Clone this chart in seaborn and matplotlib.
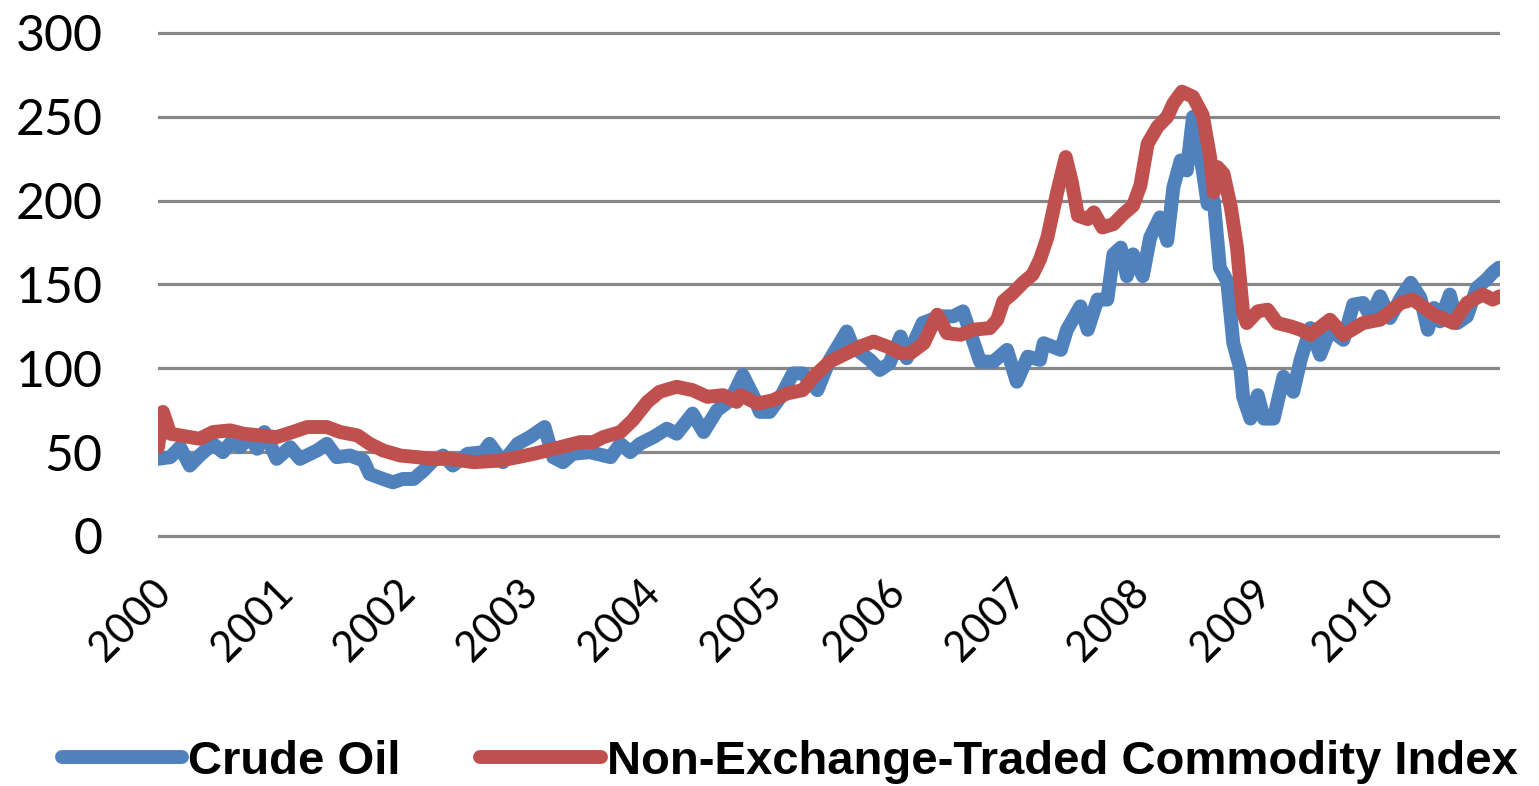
import pandas as pd
import numpy as np
import seaborn as sns
import matplotlib.pyplot as plt
import matplotlib.transforms as mtransforms

# values (year fraction, index level)
oil_year = [2000.00, 2000.10, 2000.18, 2000.26, 2000.34, 2000.45, 2000.53, 2000.61, 2000.67, 2000.75,
            2000.81, 2000.87, 2000.97, 2001.08, 2001.16, 2001.30, 2001.38, 2001.46, 2001.57, 2001.68,
            2001.73, 2001.84, 2001.92, 2002.00, 2002.09, 2002.17, 2002.25, 2002.33, 2002.41, 2002.53,
            2002.66, 2002.71, 2002.82, 2002.94, 2003.04, 2003.12, 2003.16, 2003.23, 2003.31, 2003.39,
            2003.53, 2003.70, 2003.78, 2003.86, 2003.94, 2004.05, 2004.16, 2004.24, 2004.37, 2004.46,
            2004.57, 2004.68, 2004.78, 2004.87, 2004.92, 2005.00, 2005.09, 2005.19, 2005.27, 2005.39,
            2005.49, 2005.63, 2005.68, 2005.82, 2005.90, 2005.98, 2006.07, 2006.12, 2006.25, 2006.39,
            2006.50, 2006.58, 2006.66, 2006.72, 2006.83, 2006.94, 2007.02, 2007.11, 2007.21, 2007.24,
            2007.38, 2007.43, 2007.54, 2007.60, 2007.68, 2007.76, 2007.81, 2007.87, 2007.92, 2007.97,
            2008.05, 2008.11, 2008.19, 2008.25, 2008.30, 2008.36, 2008.41, 2008.46, 2008.54, 2008.58,
            2008.63, 2008.68, 2008.74, 2008.79, 2008.85, 2008.87, 2008.93, 2008.99, 2009.04, 2009.12,
            2009.20, 2009.28, 2009.34, 2009.42, 2009.50, 2009.58, 2009.69, 2009.77, 2009.85, 2009.91,
            2009.99, 2010.07, 2010.16, 2010.24, 2010.32, 2010.38, 2010.43, 2010.48, 2010.56, 2010.62,
            2010.70, 2010.78, 2010.86, 2010.91, 2010.96]
oil_value = [46, 47, 53, 42, 48, 55, 50, 57, 53, 59,
             52, 62, 46, 53, 46, 51, 55, 47, 48, 45,
             37, 34, 32, 34, 34, 39, 45, 48, 42, 49,
             50, 55, 44, 55, 59, 63, 65, 47, 44, 49,
             50, 47, 55, 50, 55, 59, 64, 61, 73, 62,
             75, 81, 96, 83, 74, 74, 83, 97, 97, 87,
             105, 122, 113, 105, 99, 103, 119, 106, 127, 131,
             131, 134, 117, 104, 104, 111, 92, 107, 105, 115,
             111, 123, 137, 123, 141, 141, 168, 172, 155, 168,
             155, 178, 190, 176, 208, 224, 218, 250, 218, 198,
             200, 160, 152, 115, 99, 83, 70, 84, 70, 70,
             95, 86, 105, 124, 108, 123, 117, 138, 139, 131,
             143, 130, 142, 151, 142, 123, 136, 128, 144, 127,
             131, 148, 153, 157, 160]

index_year = [2000.00, 2000.04, 2000.10, 2000.26, 2000.34, 2000.45, 2000.59, 2000.70, 2000.83, 2000.97,
              2001.10, 2001.22, 2001.38, 2001.49, 2001.63, 2001.73, 2001.84, 2001.98, 2002.12, 2002.25,
              2002.39, 2002.58, 2002.80, 2002.94, 2003.07, 2003.29, 2003.45, 2003.56, 2003.64, 2003.78,
              2003.88, 2004.00, 2004.10, 2004.24, 2004.37, 2004.49, 2004.62, 2004.73, 2004.76, 2004.90,
              2005.03, 2005.14, 2005.27, 2005.36, 2005.49, 2005.63, 2005.74, 2005.85, 2005.96, 2006.07,
              2006.15, 2006.26, 2006.37, 2006.45, 2006.56, 2006.66, 2006.80, 2006.86, 2006.91, 2006.99,
              2007.07, 2007.15, 2007.21, 2007.27, 2007.35, 2007.42, 2007.47, 2007.52, 2007.60, 2007.65,
              2007.72, 2007.81, 2007.89, 2007.97, 2008.03, 2008.09, 2008.17, 2008.25, 2008.30, 2008.37,
              2008.46, 2008.54, 2008.60, 2008.63, 2008.66, 2008.71, 2008.77, 2008.82, 2008.87, 2008.90,
              2008.99, 2009.07, 2009.15, 2009.26, 2009.34, 2009.42, 2009.58, 2009.69, 2009.85, 2009.99,
              2010.16, 2010.26, 2010.43, 2010.59, 2010.70, 2010.83, 2010.91, 2010.97]
index_value = [53, 74, 61, 59, 58, 62, 63, 61, 60, 59,
               62, 65, 65, 62, 60, 55, 51, 48, 47, 46,
               46, 44, 45, 47, 49, 53, 56, 56, 59, 62,
               69, 80, 86, 89, 87, 83, 84, 80, 84, 79,
               81, 85, 87, 95, 104, 109, 113, 116, 113, 109,
               109, 115, 132, 121, 120, 123, 124, 129, 140, 145,
               151, 156, 165, 178, 205, 226, 211, 191, 189, 193,
               184, 186, 192, 197, 209, 234, 244, 250, 258, 265,
               262, 251, 226, 205, 220, 216, 196, 172, 133, 127,
               134, 135, 127, 125, 123, 120, 129, 120, 127, 129,
               139, 141, 132, 127, 139, 144, 141, 143]

df = pd.concat([
    pd.DataFrame({"year": oil_year, "value": oil_value, "series": "Crude Oil"}),
    pd.DataFrame({"year": index_year, "value": index_value,
                  "series": "Non-Exchange-Traded Commodity Index"}),
])

sns.set_style("white")
plt.rcParams["font.family"] = ["Lato", "DejaVu Sans"]
plt.rcParams["text.color"] = "black"

fig = plt.figure(figsize=(15.39, 7.86), dpi=100)
ax = fig.add_axes([158 / 1539, 0.3138, 1342 / 1539, 0.6485])

palette = {"Crude Oil": "#4F81BD", "Non-Exchange-Traded Commodity Index": "#C0504D"}
sns.lineplot(data=df, x="year", y="value", hue="series", palette=palette,
             linewidth=10, estimator=None, ax=ax, legend=True)
for ln in ax.get_lines():
    ln.set_solid_capstyle("round")
    ln.set_solid_joinstyle("round")

ax.set_xlim(2000, 2010.97)
ax.set_ylim(-2, 302)
ax.set_yticks(range(0, 301, 50))
ax.set_xticks(range(2000, 2011))
ax.grid(axis="y", color="#878787", linewidth=2.3)
ax.grid(axis="x", visible=False)
ax.set_axisbelow(True)
for s in ax.spines.values():
    s.set_visible(False)
ax.set_xlabel("")
ax.set_ylabel("")
ax.tick_params(axis="y", length=0, pad=40, labelsize=36, labelcolor="black")
ax.tick_params(axis="x", length=0, pad=24, labelsize=30, labelcolor="black")
shift = mtransforms.ScaledTranslation(-0.07, 0, fig.dpi_scale_trans)
for lab in ax.get_xticklabels():
    lab.set_rotation(45)
    lab.set_ha("right")
    lab.set_va("top")
    lab.set_rotation_mode("anchor")
    lab.set_transform(lab.get_transform() + shift)

handles, labels = ax.get_legend_handles_labels()
ax.get_legend().remove()
leg = fig.legend(handles, labels, loc="center left", bbox_to_anchor=(0.04, 0.031),
                 ncol=2, frameon=False, borderpad=0, borderaxespad=0,
                 handlelength=2.55, handletextpad=0.12, columnspacing=1.7,
                 prop={"family": "Liberation Sans", "weight": "bold", "size": 34})
for t in leg.get_texts():
    t.set_color("black")
for h in leg.legend_handles:
    h.set_linewidth(10)
    h.set_solid_capstyle("round")

fig.savefig("out.png", dpi=100)
